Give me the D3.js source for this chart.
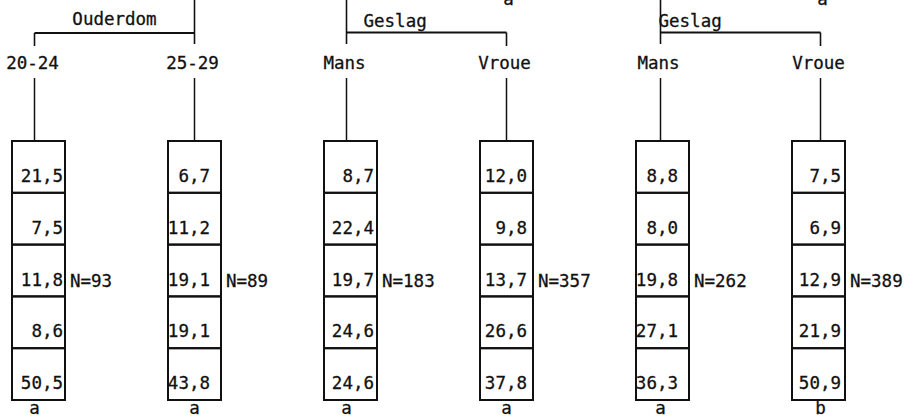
<!DOCTYPE html>
<html><head><meta charset="utf-8">
<script src="https://cdn.jsdelivr.net/npm/d3@7"></script>
<style>
html,body{margin:0;padding:0;background:#fff;}
svg{display:block;}
text{font-family:"DejaVu Sans Mono",monospace;fill:#111;stroke:#111;stroke-width:0.3px;}
</style></head>
<body><svg id="c" width="910" height="419"></svg>
<script>
// ---- data ----
const groupLabels = ["Ouderdom", "Geslag", "Geslag"];
const groupParentLetters = ["", "a", "a"];
const categories = ["20-24", "25-29", "Mans", "Vroue", "Mans", "Vroue"];
const groupOfCategory = [0, 0, 1, 1, 2, 2];
const values = [
  [21.5, 7.5, 11.8, 8.6, 50.5],
  [6.7, 11.2, 19.1, 19.1, 43.8],
  [8.7, 22.4, 19.7, 24.6, 24.6],
  [12.0, 9.8, 13.7, 26.6, 37.8],
  [8.8, 8.0, 19.8, 27.1, 36.3],
  [7.5, 6.9, 12.9, 21.9, 50.9]
];
const nValues = [93, 89, 183, 357, 262, 389];
const sigLetters = ["a", "a", "a", "a", "a", "b"];

// ---- layout ----
const boxW = 53;
const textInset = [2, 11, 3, 6, 11, 4];
const stemShift = [-4, 0, -4, 0, -2, 2];
const svg = d3.select("#c");
const x = d3.scalePoint().domain(d3.range(categories.length)).range([12, 792]);
const y = d3.scaleBand().domain(d3.range(5)).range([141, 400]);
const stemX = i => x(i) + boxW / 2 + stemShift[i];
const fmt = v => d3.format(".1f")(v).replace(".", ",");
const FS = "17.5px";

// group brackets
const groups = d3.range(groupLabels.length).map(g => {
  const idx = d3.range(categories.length).filter(i => groupOfCategory[i] === g);
  return {g, a: idx[0], b: idx[idx.length - 1]};
});
const gLine = svg.append("g").attr("stroke", "#111").attr("fill", "none").attr("stroke-width", 1.6);
groups.forEach(({g, a, b}) => {
  const xa = stemX(a), xb = stemX(b);
  const yl = g === 0 ? 33 : 32.5;
  gLine.append("line").attr("x1", xa).attr("x2", xb).attr("y1", yl).attr("y2", yl).attr("stroke-width", 2);
  const px = g === 0 ? xb : xa;
  const ox = g === 0 ? xa : xb;
  gLine.append("line").attr("x1", px).attr("x2", px).attr("y1", 0).attr("y2", 44);
  gLine.append("line").attr("x1", ox).attr("x2", ox).attr("y1", yl).attr("y2", 46);
  const lx = g === 0 ? (xa + xb) / 2 : (g === 1 ? xa + 17 : xa - 2);
  svg.append("text").attr("x", lx).attr("y", g === 0 ? 25 : 27)
    .attr("text-anchor", g === 0 ? "middle" : "start")
    .style("font-size", FS).text(groupLabels[g]);
  if (groupParentLetters[g]) {
    svg.append("text").attr("x", xb + 2).attr("y", 5).attr("text-anchor", "middle")
      .style("font-size", FS).text(groupParentLetters[g]);
  }
});

// categories, stems, boxes
categories.forEach((c, i) => {
  const sx = stemX(i);
  svg.append("text").attr("x", sx - 2).attr("y", 69).attr("text-anchor", "middle")
    .style("font-size", FS).text(c);
  svg.append("line").attr("x1", sx).attr("x2", sx).attr("y1", 78).attr("y2", y(0))
    .attr("stroke", "#111").attr("stroke-width", 1.5);
  const g = svg.append("g");
  g.selectAll("rect").data(values[i]).join("rect")
    .attr("x", x(i)).attr("y", (d, k) => y(k)).attr("width", boxW).attr("height", y.bandwidth())
    .attr("fill", "none").attr("stroke", "#111").attr("stroke-width", 2);
  g.selectAll("text.v").data(values[i]).join("text").attr("class", "v")
    .attr("x", x(i) + boxW - textInset[i]).attr("y", (d, k) => y(k) + 41)
    .attr("text-anchor", "end").style("font-size", FS).text(d => fmt(d));
  svg.append("text").attr("x", x(i) + boxW + 5).attr("y", y(2) + 42)
    .style("font-size", FS).text("N=" + nValues[i]);
  svg.append("text").attr("x", sx).attr("y", 414).attr("text-anchor", "middle")
    .style("font-size", FS).text(sigLetters[i]);
});
</script></body></html>
